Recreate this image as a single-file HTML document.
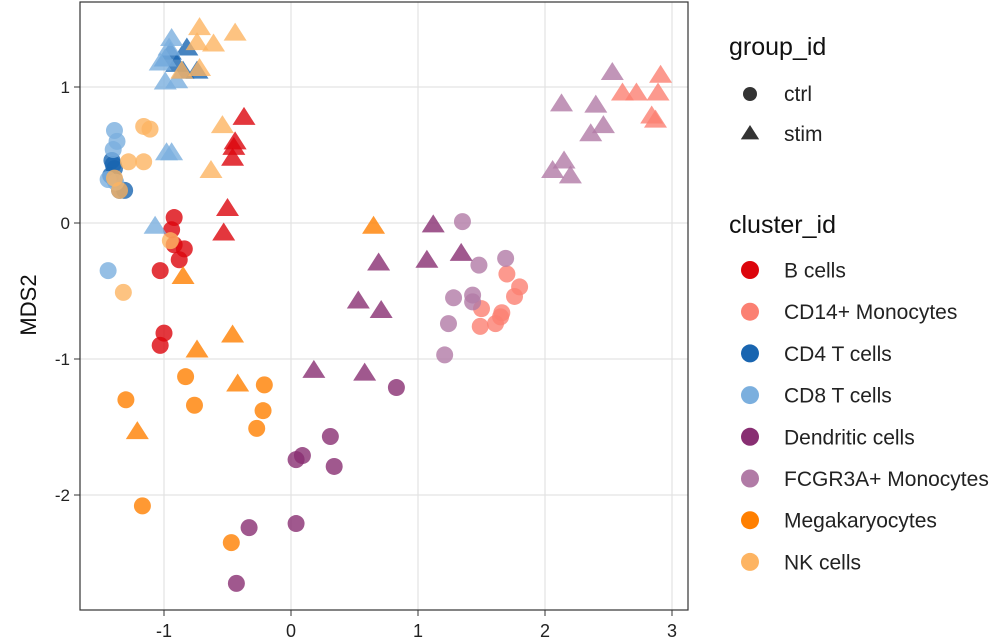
<!DOCTYPE html>
<html><head><meta charset="utf-8"><style>
body{margin:0;background:#fff;}
svg text{font-family:"Liberation Sans",sans-serif;}
</style></head><body>
<svg id="c" width="992" height="638" xmlns="http://www.w3.org/2000/svg">
<rect width="992" height="638" fill="#fff"/>
<g id="grid"></g>
<g id="pts"></g>
<rect x="80" y="2" width="608" height="608" fill="none" stroke="#333" stroke-width="1.2"/>
<g id="axes"></g>
<text x="36" y="305" font-size="22" fill="#111" text-anchor="middle" transform="rotate(-90 36 305)">MDS2</text>
<g id="legend"></g>
</svg>
<script>
const clusters=["B cells","CD14+ Monocytes","CD4 T cells","CD8 T cells","Dendritic cells","FCGR3A+ Monocytes","Megakaryocytes","NK cells"];
const colors=["#DC050C","#FB8072","#1965B0","#7BAFDE","#882E72","#B17BA6","#FF7F00","#FDB462"];
const xTicks=[-1,0,1,2,3];
const yTicks=[1,0,-1,-2];
const groups=["ctrl","stim"];
// [x, y] per cluster
const ctrlPts=[
 [[-0.92,0.04],[-0.94,-0.05],[-0.92,-0.16],[-0.84,-0.19],[-0.88,-0.27],[-1.03,-0.35],[-1.0,-0.81],[-1.03,-0.90]],
 [[1.70,-0.375],[1.80,-0.47],[1.76,-0.54],[1.50,-0.63],[1.66,-0.66],[1.65,-0.69],[1.61,-0.74],[1.49,-0.76]],
 [[-1.41,0.46],[-1.39,0.40],[-1.42,0.35],[-1.39,0.32],[-1.35,0.24],[-1.31,0.24],[-1.40,0.43]],
 [[-1.39,0.68],[-1.37,0.60],[-1.40,0.54],[-1.44,0.32],[-1.38,0.30],[-1.44,-0.35]],
 [[0.83,-1.21],[0.31,-1.57],[0.34,-1.79],[0.09,-1.71],[0.04,-1.74],[0.04,-2.21],[-0.33,-2.24],[-0.43,-2.65]],
 [[1.35,0.01],[1.69,-0.26],[1.48,-0.31],[1.28,-0.55],[1.43,-0.53],[1.43,-0.58],[1.24,-0.74],[1.21,-0.97]],
 [[-0.83,-1.13],[-0.76,-1.34],[-0.21,-1.19],[-0.22,-1.38],[-0.27,-1.51],[-1.30,-1.30],[-1.17,-2.08],[-0.47,-2.35]],
 [[-1.16,0.71],[-1.11,0.69],[-1.28,0.45],[-1.16,0.45],[-1.39,0.33],[-1.35,0.24],[-0.95,-0.13],[-1.32,-0.51]]
];
const stimPts=[
 [[-0.37,0.78],[-0.44,0.60],[-0.45,0.56],[-0.46,0.48],[-0.50,0.11],[-0.53,-0.07]],
 [[2.91,1.09],[2.89,0.96],[2.72,0.96],[2.61,0.96],[2.84,0.79],[2.87,0.76]],
 [[-0.82,1.29],[-0.95,1.26],[-0.99,1.21],[-0.90,1.17],[-0.74,1.12],[-0.85,1.12]],
 [[-0.94,1.36],[-0.96,1.29],[-0.99,1.21],[-1.03,1.18],[-0.99,1.04],[-0.90,1.05],[-0.98,0.52],[-0.94,0.52],[-1.07,-0.02]],
 [[1.12,-0.01],[1.34,-0.22],[1.07,-0.27],[0.69,-0.29],[0.53,-0.57],[0.71,-0.64],[0.18,-1.08],[0.58,-1.10]],
 [[2.53,1.11],[2.13,0.88],[2.40,0.87],[2.46,0.72],[2.36,0.66],[2.15,0.46],[2.06,0.39],[2.20,0.35]],
 [[0.65,-0.02],[-0.85,-0.39],[-0.46,-0.82],[-0.74,-0.93],[-0.42,-1.18],[-1.21,-1.53]],
 [[-0.72,1.44],[-0.44,1.40],[-0.61,1.32],[-0.74,1.33],[-0.72,1.14],[-0.86,1.12],[-0.54,0.72],[-0.63,0.39]]
];
const NS="http://www.w3.org/2000/svg";
const sx=v=>291+v*127, sy=v=>223-v*136;
function mk(t,a,p){const e=document.createElementNS(NS,t);for(const k in a)e.setAttribute(k,a[k]);p.appendChild(e);return e;}
const grid=document.getElementById('grid'),axes=document.getElementById('axes'),pts=document.getElementById('pts'),leg=document.getElementById('legend');
xTicks.forEach(v=>{
 const l=mk('line',{x1:sx(v),x2:sx(v),y1:2,y2:610,stroke:'#e3e3e3','stroke-width':1.2},grid);
 
 const t=mk('line',{x1:sx(v),x2:sx(v),y1:610,y2:616,stroke:'#333'},axes);
 
 const tx=mk('text',{x:sx(v),y:637,'font-size':18,fill:'#222','text-anchor':'middle'},axes);tx.textContent=v;
 
});
yTicks.forEach(v=>{
 const l=mk('line',{x1:80,x2:688,y1:sy(v),y2:sy(v),stroke:'#e3e3e3','stroke-width':1.2},grid);
 
 const t=mk('line',{x1:74,x2:80,y1:sy(v),y2:sy(v),stroke:'#333'},axes);
 
 const tx=mk('text',{x:70,y:sy(v)+6,'font-size':17,fill:'#222','text-anchor':'end'},axes);tx.textContent=v;
 
});
function tri(cx,cy,s){return `${cx},${cy-s} ${cx-s*1.15},${cy+s*0.8} ${cx+s*1.15},${cy+s*0.8}`;}
ctrlPts.forEach((arr,i)=>arr.forEach(p=>{
 const c=mk('circle',{cx:sx(p[0]),cy:sy(p[1]),r:8.5,fill:colors[i],'fill-opacity':0.8},pts);
 
}));
stimPts.forEach((arr,i)=>arr.forEach(p=>{
 const c=mk('polygon',{points:tri(sx(p[0]),sy(p[1]),10),fill:colors[i],'fill-opacity':0.8},pts);
 
}));
let t=mk('text',{x:729,y:55,'font-size':25,fill:'#111'},leg);t.textContent='group_id';

let e=mk('circle',{cx:750,cy:94,r:7,fill:'#333'},leg);

e=mk('polygon',{points:tri(750,133,8),fill:'#333'},leg);

groups.forEach((g,i)=>{const tx=mk('text',{x:784,y:101+i*40,'font-size':21,fill:'#222'},leg);tx.textContent=g;
 });
t=mk('text',{x:729,y:233,'font-size':25,fill:'#111'},leg);t.textContent='cluster_id';

clusters.forEach((c,i)=>{const y=270+i*41.7;
 const k=mk('circle',{cx:750,cy:y,r:9,fill:colors[i]},leg);
 
 const tx=mk('text',{x:784,y:y+7.5,'font-size':21,fill:'#222'},leg);tx.textContent=c;
 });
</script>
</body></html>
